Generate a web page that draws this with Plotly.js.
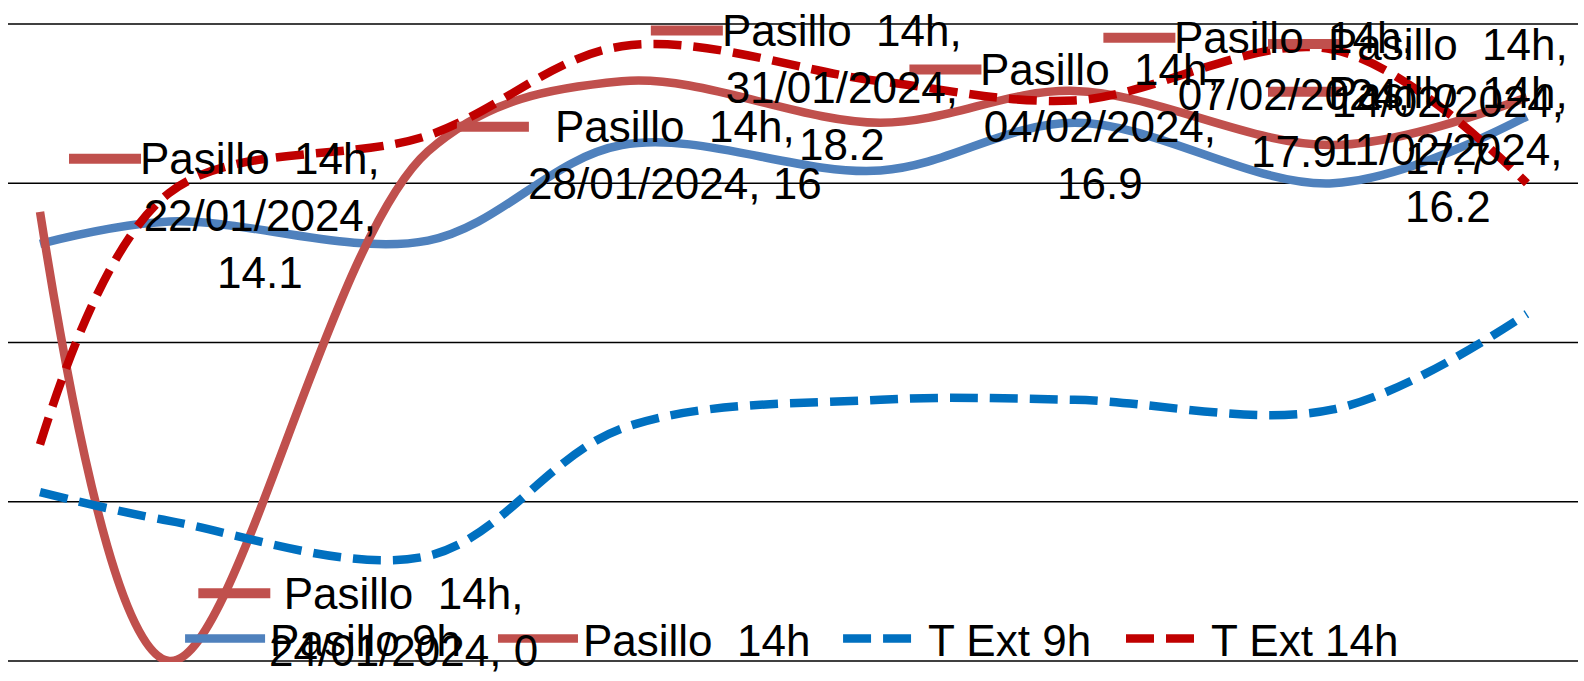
<!DOCTYPE html>
<html>
<head>
<meta charset="utf-8">
<script src="https://cdn.plot.ly/plotly-3.0.1.min.js"></script>
<style>html,body{margin:0;padding:0;background:#fff;}#chart{width:1584px;height:681px;}</style>
</head>
<body>
<div id="chart"></div>
<script>
// ---- data ----
const dates = ['2024-01-22','2024-01-24','2024-01-28','2024-01-31','2024-02-04','2024-02-07','2024-02-11','2024-02-14'];
const dateLabels = ['22/01/2024','24/01/2024','28/01/2024','31/01/2024','04/02/2024','07/02/2024','11/02/2024','14/02/2024'];
const seriesNames = ['Pasillo 9h','Pasillo  14h','T Ext 9h','T Ext 14h'];
const pasillo9h  = [13.1, 13.8, 13.2, 16.2, 15.4, 16.9, 15.0, 17.1];
const pasillo14h = [14.1, 0, 16, 18.2, 16.9, 17.9, 16.2, 17.7];
const tExt9h     = [5.3, 4.4, 3.3, 7.3, 8.2, 8.2, 7.9, 10.9];
const tExt14h    = [6.8, 14.7, 16.5, 19.3, 18.2, 17.6, 19.2, 15.0];
const yTicks = [0, 5, 10, 15, 20];

// ---- style ----
const FONT = 'Liberation Sans, Arial, sans-serif';
const FS = 44;
const LINE_H = FS * 1.3;
const colors = ['#4F81BD', '#C0504D', '#0070C0', '#C00000'];
const W = 1584, H = 681;
const M = {l: 8, r: 6, t: 23, b: 19};
const pad = 20 / 637;
const yRange = [-pad, 20 + pad];
const xRange = ['2024-01-21 12:07', '2024-02-14 18:58'];
const plotW = W - M.l - M.r, plotH = H - M.t - M.b;
const t0 = Date.parse(xRange[0].replace(' ', 'T') + ':00Z'), t1 = Date.parse(xRange[1].replace(' ', 'T') + ':00Z');
function xPix(d) { return M.l + (Date.parse(d + 'T00:00:00Z') - t0) / (t1 - t0) * plotW; }
function yPix(v) { return M.t + (yRange[1] - v) / (yRange[1] - yRange[0]) * plotH; }
const disp = s => s.replace(/  /g, ' \u00a0');

// legend entry positions (paper x of each legend item)
const legendX = [0.1096, 0.3089, 0.5287, 0.7089];
const legendIds = ['legend', 'legend2', 'legend3', 'legend4'];

const ys = [pasillo9h, pasillo14h, tExt9h, tExt14h];
const dashes = ['solid', 'solid', '28px,12px', '28px,12px'];
const traces = ys.map((y, i) => ({
  type: 'scatter', mode: 'lines', x: dates, y: y,
  name: disp(seriesNames[i]), legend: legendIds[i],
  line: {color: colors[i], width: 8.5, shape: 'spline', smoothing: 1, dash: dashes[i]},
  hoverinfo: 'skip'
}));

// ---- gridlines (drawn as shapes so the ones on the plot edges stay visible) ----
const shapes = yTicks.map(t => ({
  type: 'line', xref: 'paper', x0: 0, x1: 1, yref: 'y', y0: t, y1: t,
  line: {color: '#000', width: 1.3}, layer: 'below'
}));

// ---- data labels for Pasillo 14h ----
const annotations = [];
pasillo14h.forEach((v, i) => {
  const vs = String(v);
  const lines = [disp(seriesNames[1]) + ','];
  const l2 = dateLabels[i] + ', ' + vs;
  if (l2.length <= 14) lines.push(l2); else { lines.push(dateLabels[i] + ','); lines.push(vs); }
  const n = lines.length;
  const py = yPix(v);
  let cy = py + 4;
  const half = n * LINE_H / 2;
  if (cy + half > H - 2) cy = H - 2 - half;
  if (cy - half < 2) cy = 2 + half;
  const yshift = -(cy - py);
  const firstLineY = cy - (n - 1) / 2 * LINE_H;
  const overflow = xPix(dates[i]) + 100 + 240 > W - M.r - 4;
  const ann = {
    text: lines.join('<br>'), showarrow: false, align: 'center',
    font: {family: FONT, size: FS, color: '#000'},
    y: v, yref: 'y', yanchor: 'middle', yshift: yshift
  };
  const shp = {
    type: 'line', line: {color: colors[1], width: 10}, layer: 'above',
    yref: 'y', ysizemode: 'pixel', yanchor: v, y0: py - firstLineY, y1: py - firstLineY
  };
  if (overflow) {
    Object.assign(ann, {x: 1, xref: 'paper', xanchor: 'right', xshift: -8});
    Object.assign(shp, {xref: 'paper', xsizemode: 'pixel', xanchor: 1, x0: -310, x1: -237});
  } else {
    Object.assign(ann, {x: dates[i], xref: 'x', xanchor: 'left', xshift: 98});
    Object.assign(shp, {xref: 'x', xsizemode: 'pixel', xanchor: dates[i], x0: 29, x1: 101});
  }
  annotations.push(ann);
  shapes.push(shp);
});

const layout = {
  width: W, height: H,
  margin: M,
  paper_bgcolor: '#fff', plot_bgcolor: '#fff',
  font: {family: FONT, size: FS, color: '#000'},
  showlegend: true,
  xaxis: {type: 'date', range: xRange, showgrid: false, showticklabels: false, ticks: '', showline: false, zeroline: false},
  yaxis: {range: yRange, tickvals: yTicks, showticklabels: false, ticks: '', showgrid: false,
          zeroline: false, showline: false},
  annotations: annotations,
  shapes: shapes
};
legendIds.forEach((id, i) => {
  layout[id] = {
    orientation: 'h', x: legendX[i], xanchor: 'left', y: 0.036, yanchor: 'middle',
    bgcolor: 'rgba(0,0,0,0)', borderwidth: 0,
    font: {family: FONT, size: FS, color: '#000'}, itemwidth: 80
  };
});
Plotly.newPlot('chart', traces, layout, {staticPlot: true, displayModeBar: false});
</script>
</body>
</html>
